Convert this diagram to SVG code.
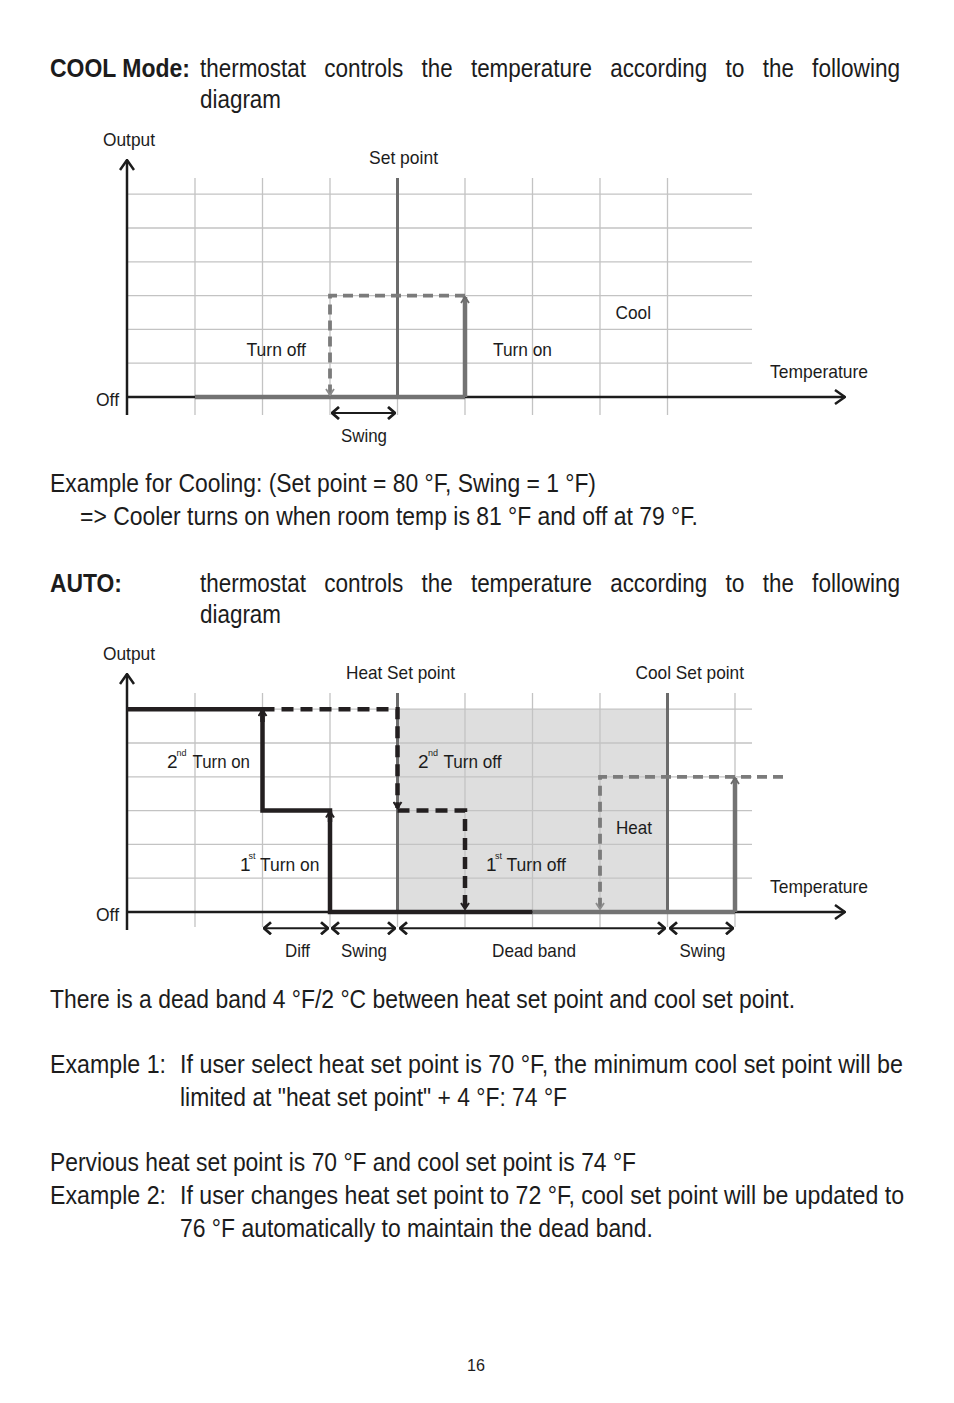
<svg xmlns="http://www.w3.org/2000/svg" width="954" height="1403" viewBox="0 0 954 1403">
<style>
.body{font-family:"Liberation Sans",Arial,sans-serif;font-size:26px;fill:#1c1c1c}
.bold{font-weight:bold}
.lbl{font-family:"Liberation Sans",Arial,sans-serif;font-size:19px;fill:#1c1c1c}
.sup{font-family:"Liberation Sans",Arial,sans-serif;font-size:9px;fill:#1c1c1c}
.pg{font-family:"Liberation Sans",Arial,sans-serif;font-size:17px;fill:#1c1c1c}
.grid{stroke:#c3c3c3;stroke-width:1.3;fill:none}
.axis{stroke:#1c1c1c;stroke-width:2.5;fill:none}
.sp{stroke:#6b6b6b;stroke-width:3;fill:none}
.gthick{stroke:#737373;stroke-width:4.5;fill:none}
.gdash{stroke:#7b7b7b;stroke-width:3.8;stroke-dasharray:10 6;fill:none}
.bthick{stroke:#231f20;stroke-width:4.5;fill:none}
.bdash{stroke:#231f20;stroke-width:4.5;stroke-dasharray:12 7;fill:none}
.dim{stroke:#1c1c1c;stroke-width:2;fill:none}
</style>
<defs>
<marker id="mAx" viewBox="0 0 12 16" refX="11" refY="8" markerWidth="12" markerHeight="16" markerUnits="userSpaceOnUse" orient="auto-start-reverse"><path d="M1,1 L11,8 L1,15" fill="none" stroke="#1c1c1c" stroke-width="2.5"/></marker>
<marker id="mDim" viewBox="0 0 9 14" refX="8" refY="7" markerWidth="9" markerHeight="14" markerUnits="userSpaceOnUse" orient="auto-start-reverse"><path d="M1,1 L8,7 L1,13" fill="none" stroke="#1c1c1c" stroke-width="2.8"/></marker>
<marker id="mG" viewBox="0 0 8 10" refX="7" refY="5" markerWidth="8" markerHeight="10" markerUnits="userSpaceOnUse" orient="auto-start-reverse"><path d="M1,1 L7,5 L1,9" fill="none" stroke="#6b6b6b" stroke-width="1.8"/></marker>
<marker id="mL" viewBox="0 0 8 10" refX="7" refY="5" markerWidth="8" markerHeight="10" markerUnits="userSpaceOnUse" orient="auto-start-reverse"><path d="M1,1 L7,5 L1,9" fill="none" stroke="#8c8c8c" stroke-width="1.8"/></marker>
<marker id="mB" viewBox="0 0 8 10" refX="7" refY="5" markerWidth="8" markerHeight="10" markerUnits="userSpaceOnUse" orient="auto-start-reverse"><path d="M1,1 L7,5 L1,9" fill="none" stroke="#231f20" stroke-width="2"/></marker>
</defs>
<rect width="954" height="1403" fill="#ffffff"/>

<g id="heading-cool">
<text class="body bold" x="50" y="77" textLength="140" lengthAdjust="spacingAndGlyphs">COOL Mode:</text>
<text class="body" x="200" y="77" textLength="106" lengthAdjust="spacingAndGlyphs">thermostat</text>
<text class="body" x="324.3" y="77" textLength="79" lengthAdjust="spacingAndGlyphs">controls</text>
<text class="body" x="421.6" y="77" textLength="31" lengthAdjust="spacingAndGlyphs">the</text>
<text class="body" x="470.9" y="77" textLength="121" lengthAdjust="spacingAndGlyphs">temperature</text>
<text class="body" x="610.2" y="77" textLength="97" lengthAdjust="spacingAndGlyphs">according</text>
<text class="body" x="725.5" y="77" textLength="19" lengthAdjust="spacingAndGlyphs">to</text>
<text class="body" x="762.8" y="77" textLength="31" lengthAdjust="spacingAndGlyphs">the</text>
<text class="body" x="812.1" y="77" textLength="88" lengthAdjust="spacingAndGlyphs">following</text>
<text class="body" x="200" y="108" textLength="81" lengthAdjust="spacingAndGlyphs">diagram</text>
</g>

<g id="cool-diagram">
<g id="cool-grid">
<path class="grid" d="M127,194.2 H752 M127,228 H752 M127,261.8 H752 M127,295.6 H752 M127,363.2 H752"/>
<path class="grid" d="M127,329.4 H752" stroke-width="2"/>
<path class="grid" d="M195,178 V415 M262.5,178 V415 M330,178 V415 M397.5,178 V415 M465,178 V415 M532.5,178 V415 M600,178 V415 M667.5,178 V415"/>
</g>
<g id="cool-axes">
<path class="axis" d="M127,415 V160" marker-end="url(#mAx)"/>
<path class="axis" d="M127,397 H845" marker-end="url(#mAx)"/>
</g>
<g id="cool-setpoint"><path class="sp" d="M397.5,178 V397"/></g>
<g id="connectors-cool">
<path class="gthick" d="M195,397 H465"/>
<path class="gdash" d="M465,295.6 H330 V395" marker-end="url(#mL)"/>
<path class="gthick" d="M465,397 V297" marker-end="url(#mG)"/>
<path class="dim" d="M332,413 H395" marker-start="url(#mDim)" marker-end="url(#mDim)"/>
</g>
<g id="cool-labels">
<text class="lbl" x="103" y="146" textLength="52" lengthAdjust="spacingAndGlyphs">Output</text>
<text class="lbl" x="369" y="164" textLength="69" lengthAdjust="spacingAndGlyphs">Set point</text>
<text class="lbl" x="615.5" y="319" textLength="35.5" lengthAdjust="spacingAndGlyphs">Cool</text>
<text class="lbl" x="246.5" y="356" textLength="59.5" lengthAdjust="spacingAndGlyphs">Turn off</text>
<text class="lbl" x="493" y="356" textLength="59" lengthAdjust="spacingAndGlyphs">Turn on</text>
<text class="lbl" x="770" y="378" textLength="98" lengthAdjust="spacingAndGlyphs">Temperature</text>
<text class="lbl" x="96" y="406" textLength="23" lengthAdjust="spacingAndGlyphs">Off</text>
<text class="lbl" x="341" y="442" textLength="46" lengthAdjust="spacingAndGlyphs">Swing</text>
</g>
</g>

<g id="example-cool">
<text class="body" x="50" y="492" textLength="546" lengthAdjust="spacingAndGlyphs">Example for Cooling: (Set point = 80 °F, Swing = 1 °F)</text>
<text class="body" x="80" y="525" textLength="618" lengthAdjust="spacingAndGlyphs">=&gt; Cooler turns on when room temp is 81 °F and off at 79 °F.</text>
</g>

<g id="heading-auto">
<text class="body bold" x="50" y="592" textLength="72" lengthAdjust="spacingAndGlyphs">AUTO:</text>
<text class="body" x="200" y="592" textLength="106" lengthAdjust="spacingAndGlyphs">thermostat</text>
<text class="body" x="324.3" y="592" textLength="79" lengthAdjust="spacingAndGlyphs">controls</text>
<text class="body" x="421.6" y="592" textLength="31" lengthAdjust="spacingAndGlyphs">the</text>
<text class="body" x="470.9" y="592" textLength="121" lengthAdjust="spacingAndGlyphs">temperature</text>
<text class="body" x="610.2" y="592" textLength="97" lengthAdjust="spacingAndGlyphs">according</text>
<text class="body" x="725.5" y="592" textLength="19" lengthAdjust="spacingAndGlyphs">to</text>
<text class="body" x="762.8" y="592" textLength="31" lengthAdjust="spacingAndGlyphs">the</text>
<text class="body" x="812.1" y="592" textLength="88" lengthAdjust="spacingAndGlyphs">following</text>
<text class="body" x="200" y="623" textLength="81" lengthAdjust="spacingAndGlyphs">diagram</text>
</g>

<g id="auto-diagram">
<g id="deadband-shade"><rect x="397.5" y="709.2" width="270" height="202.8" fill="#dedede"/></g>
<g id="auto-grid">
<path class="grid" d="M127,709.2 H752 M127,743 H752 M127,776.8 H752 M127,810.6 H752 M127,844.4 H752 M127,878.2 H752"/>
<path class="grid" d="M195,693 V927 M262.5,693 V927 M330,693 V927 M397.5,693 V927 M465,693 V927 M532.5,693 V927 M600,693 V927 M667.5,693 V927 M735,693 V927"/>
</g>
<g id="auto-axes">
<path class="axis" d="M127,930 V674" marker-end="url(#mAx)"/>
<path class="axis" d="M127,912 H845" marker-end="url(#mAx)"/>
</g>
<g id="heat-setpoint"><path class="sp" d="M397.5,693 V912" stroke-width="2.5"/></g>
<g id="cool-setpoint-line"><path class="sp" d="M667.5,693 V912"/></g>
<g id="connectors-auto">
<path class="bdash" d="M262.5,709.2 H397.5 V808" marker-end="url(#mB)"/>
<path class="bdash" d="M397.5,810.6 H465 V909" marker-end="url(#mB)"/>
<polyline class="bthick" points="127,709.2 262.5,709.2 262.5,810.6 330,810.6 330,912 532.5,912"/>
<path class="bthick" d="M262.5,722 V710" marker-end="url(#mB)"/>
<path class="bthick" d="M330,822 V811.5" marker-end="url(#mB)"/>
<path class="gthick" d="M532.5,912 H735"/>
<path class="gdash" d="M783,776.8 H600 V909" marker-end="url(#mL)"/>
<path class="gthick" d="M735,912 V778" marker-end="url(#mG)"/>
<path class="dim" d="M264,928.3 H328" marker-start="url(#mDim)" marker-end="url(#mDim)"/>
<path class="dim" d="M332,928.3 H395" marker-start="url(#mDim)" marker-end="url(#mDim)"/>
<path class="dim" d="M400,928.3 H665" marker-start="url(#mDim)" marker-end="url(#mDim)"/>
<path class="dim" d="M670,928.3 H733" marker-start="url(#mDim)" marker-end="url(#mDim)"/>
</g>
<g id="auto-labels">
<text class="lbl" x="103" y="660" textLength="52" lengthAdjust="spacingAndGlyphs">Output</text>
<text class="lbl" x="346" y="679" textLength="109" lengthAdjust="spacingAndGlyphs">Heat Set point</text>
<text class="lbl" x="635.5" y="679" textLength="108.5" lengthAdjust="spacingAndGlyphs">Cool Set point</text>
<text class="lbl" x="167" y="768">2</text><text class="sup" x="176.5" y="756">nd</text>
<text class="lbl" x="192.5" y="768" textLength="57.5" lengthAdjust="spacingAndGlyphs">Turn on</text>
<text class="lbl" x="418" y="768">2</text><text class="sup" x="428" y="756">nd</text>
<text class="lbl" x="443.5" y="768" textLength="58" lengthAdjust="spacingAndGlyphs">Turn off</text>
<text class="lbl" x="616" y="834" textLength="36" lengthAdjust="spacingAndGlyphs">Heat</text>
<text class="lbl" x="240" y="870.5">1</text><text class="sup" x="248.5" y="859">st</text>
<text class="lbl" x="260" y="870.5" textLength="59.5" lengthAdjust="spacingAndGlyphs">Turn on</text>
<text class="lbl" x="486" y="870.5">1</text><text class="sup" x="495" y="859">st</text>
<text class="lbl" x="506.5" y="870.5" textLength="59.5" lengthAdjust="spacingAndGlyphs">Turn off</text>
<text class="lbl" x="770" y="892.5" textLength="98" lengthAdjust="spacingAndGlyphs">Temperature</text>
<text class="lbl" x="96" y="921" textLength="23" lengthAdjust="spacingAndGlyphs">Off</text>
<text class="lbl" x="285" y="957" textLength="25" lengthAdjust="spacingAndGlyphs">Diff</text>
<text class="lbl" x="341" y="957" textLength="46" lengthAdjust="spacingAndGlyphs">Swing</text>
<text class="lbl" x="492" y="957" textLength="84" lengthAdjust="spacingAndGlyphs">Dead band</text>
<text class="lbl" x="679.5" y="957" textLength="46" lengthAdjust="spacingAndGlyphs">Swing</text>
</g>
</g>

<g id="notes">
<text class="body" x="50" y="1008" textLength="745" lengthAdjust="spacingAndGlyphs">There is a dead band 4 °F/2 °C between heat set point and cool set point.</text>
<text class="body" x="50" y="1073" textLength="116" lengthAdjust="spacingAndGlyphs">Example 1:</text>
<text class="body" transform="translate(180,1073) scale(0.85,1)" x="0" y="0" textLength="850.6" lengthAdjust="spacingAndGlyphs">If user select heat set point is 70 °F, the minimum cool set point will be</text>
<text class="body" x="180" y="1106" textLength="387" lengthAdjust="spacingAndGlyphs">limited at "heat set point" + 4 °F: 74 °F</text>
<text class="body" x="50" y="1171" textLength="586" lengthAdjust="spacingAndGlyphs">Pervious heat set point is 70 °F and cool set point is 74 °F</text>
<text class="body" x="50" y="1204" textLength="116" lengthAdjust="spacingAndGlyphs">Example 2:</text>
<text class="body" transform="translate(180,1204) scale(0.85,1)" x="0" y="0" textLength="851.8" lengthAdjust="spacingAndGlyphs">If user changes heat set point to 72 °F, cool set point will be updated to</text>
<text class="body" x="180" y="1237" textLength="473" lengthAdjust="spacingAndGlyphs">76 °F automatically to maintain the dead band.</text>
</g>

<g id="page-number"><text class="pg" x="467" y="1371" textLength="18" lengthAdjust="spacingAndGlyphs">16</text></g>
</svg>
